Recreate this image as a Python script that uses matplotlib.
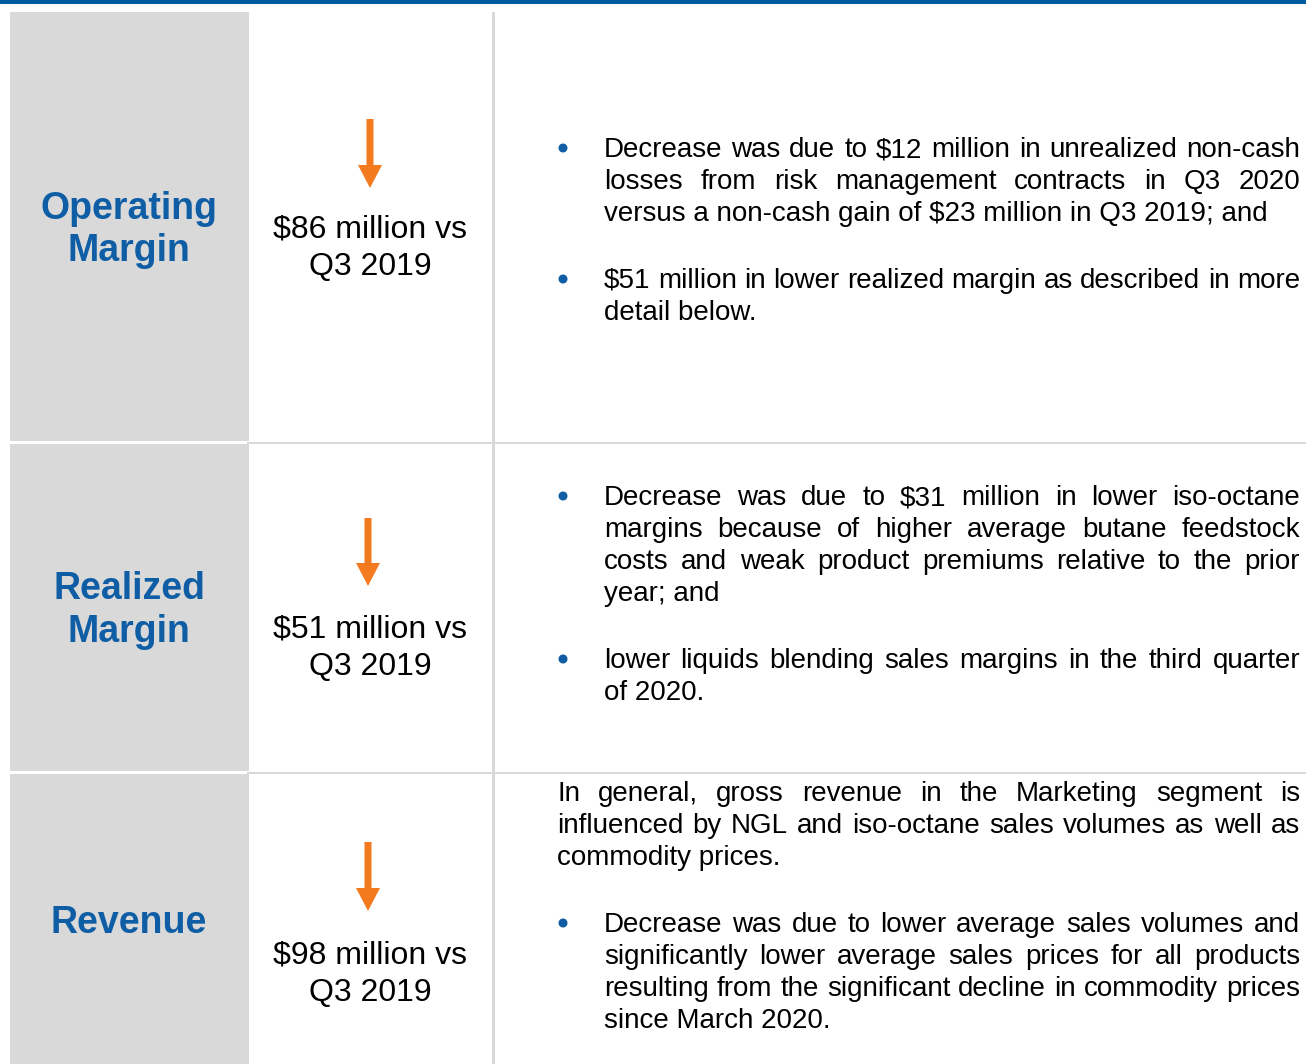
import matplotlib
matplotlib.use("Agg")
import matplotlib.pyplot as plt
from matplotlib.patches import Rectangle, FancyArrow, Circle

plt.rcParams["font.family"] = ["Liberation Sans", "DejaVu Sans"]

# row titles and the change shown for each row
row_titles = [["Operating", "Margin"], ["Realized", "Margin"], ["Revenue"]]
change_values = ["$86 million vs", "$51 million vs", "$98 million vs"]
compare_period = "Q3 2019"

# explanation paragraphs: (row, bullet?, lines as laid out in the picture)
paragraphs = [
    (0, True, ["Decrease was due to $12 million in unrealized non-cash",
               "losses from risk management contracts in Q3 2020",
               "versus a non-cash gain of $23 million in Q3 2019; and"]),
    (0, True, ["$51 million in lower realized margin as described in more",
               "detail below."]),
    (1, True, ["Decrease was due to $31 million in lower iso-octane",
               "margins because of higher average butane feedstock",
               "costs and weak product premiums relative to the prior",
               "year; and"]),
    (1, True, ["lower liquids blending sales margins in the third quarter",
               "of 2020."]),
    (2, False, ["In general, gross revenue in the Marketing segment is",
                "influenced by NGL and iso-octane sales volumes as well as",
                "commodity prices."]),
    (2, True, ["Decrease was due to lower average sales volumes and",
               "significantly lower average sales prices for all products",
               "resulting from the significant decline in commodity prices",
               "since March 2020."]),
]

# layout (pixels)
W, H = 1306, 1064
row_tops = [12, 444, 774]
row_bottoms = [441, 771, 1064]
title_baselines = [[219, 261], [599, 642], [933]]
value_baselines = [238, 638, 964]
arrow_spans = [(370, 119, 188), (368, 518, 586), (368, 842, 911)]
para_baselines = [157, 288, 505, 668, 801, 932]

BLUE = "#0F5EA5"
GREY = "#D9D9D9"
ORANGE = "#F47A20"

fig = plt.figure(figsize=(W / 100, H / 100), dpi=100)
ax = fig.add_axes([0, 0, 1, 1])
ax.set_xlim(0, W)
ax.set_ylim(H, 0)
ax.axis("off")

# frame
ax.add_patch(Rectangle((0, 0), W, 4, color="#005A9E", lw=0))
for top, bot in zip(row_tops, row_bottoms):
    ax.add_patch(Rectangle((10, top), 239, bot - top, color=GREY, lw=0))
ax.add_patch(Rectangle((491.5, 12), 3, H - 12, color=GREY, lw=0))
for top in row_tops[1:]:
    ax.add_patch(Rectangle((247, top - 2.5), W - 247, 2.5, color=GREY, lw=0))

# left titles
for lines, ys in zip(row_titles, title_baselines):
    for txt, y in zip(lines, ys):
        ax.text(129, y, txt, ha="center", va="baseline", fontsize=27,
                fontweight="bold", color=BLUE)

# arrows and values
for (x, y0, y1), val, yb in zip(arrow_spans, change_values, value_baselines):
    ax.add_patch(FancyArrow(x, y0, 0, y1 - y0, width=7, head_width=24,
                            head_length=23, length_includes_head=True,
                            color=ORANGE, lw=0))
    ax.text(370, yb, val, ha="center", va="baseline", fontsize=23)
    ax.text(370, yb + 37, compare_period, ha="center", va="baseline",
            fontsize=23)

# justified paragraphs
renderer = fig.canvas.get_renderer()
x_right = 1300
step = 32
fs = 20
for (row, bullet, lines), y0 in zip(paragraphs, para_baselines):
    x_left = 604 if bullet else 557
    if bullet:
        ax.add_patch(Circle((563, y0 - 9), 4.5, color=BLUE, lw=0))
    for i, line in enumerate(lines):
        y = y0 + i * step
        if i == len(lines) - 1:
            ax.text(x_left, y, line, ha="left", va="baseline", fontsize=fs)
            continue
        words = line.split()
        objs = [ax.text(0, y, w, ha="left", va="baseline", fontsize=fs)
                for w in words]
        widths = [o.get_window_extent(renderer).width for o in objs]
        gap = (x_right - x_left - sum(widths)) / (len(words) - 1)
        x = x_left
        for o, wd in zip(objs, widths):
            o.set_x(x)
            x += wd + gap

fig.savefig("out.png", dpi=100)
